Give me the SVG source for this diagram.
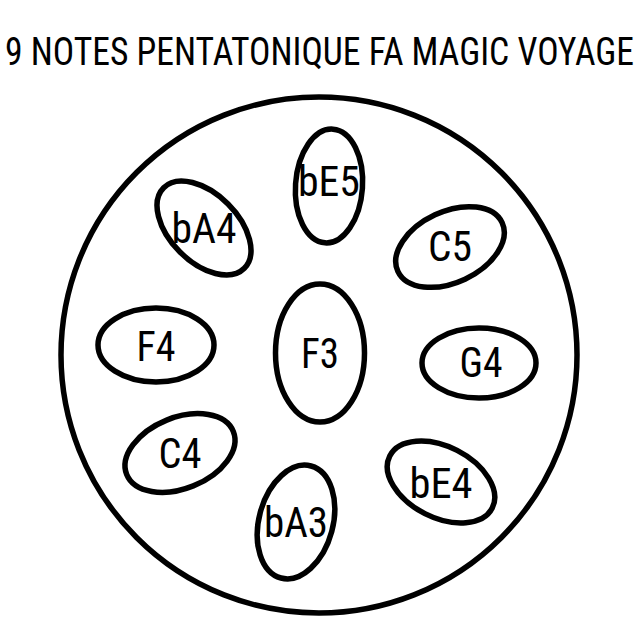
<svg xmlns="http://www.w3.org/2000/svg" width="640" height="640" viewBox="0 0 640 640">
<style>
.shape{fill:none;stroke:#000;stroke-width:5.5}
.lbl{font-family:"Roboto Condensed",Roboto,"Liberation Sans",sans-serif;font-size:43px;fill:#000;text-anchor:middle}
.title{font-family:"Roboto Condensed",Roboto,"Liberation Sans",sans-serif;font-size:33px;fill:#000}
</style>
<rect width="640" height="640" fill="#fff"/>
<text class="title" x="5" y="56.5" transform="scale(1,1.15)" textLength="629" lengthAdjust="spacingAndGlyphs">9 NOTES PENTATONIQUE FA MAGIC VOYAGE</text>
<g id="drum"><circle class="shape" cx="319" cy="355" r="258"/></g>
<g id="connectors"></g>
<g id="bE5"><ellipse class="shape" cx="329" cy="186" rx="33.5" ry="57" transform="rotate(4 329 186)"/><text class="lbl" x="329" y="196" textLength="62" lengthAdjust="spacingAndGlyphs">bE5</text></g>
<g id="bA4"><ellipse class="shape" cx="204" cy="228" rx="57" ry="34" transform="rotate(45 204 228)"/><text class="lbl" x="204" y="243" textLength="65" lengthAdjust="spacingAndGlyphs">bA4</text></g>
<g id="C5"><ellipse class="shape" cx="450" cy="247" rx="57.5" ry="35.5" transform="rotate(-25 450 247)"/><text class="lbl" x="450" y="261" textLength="44" lengthAdjust="spacingAndGlyphs">C5</text></g>
<g id="F4"><ellipse class="shape" cx="156" cy="345" rx="58" ry="37"/><text class="lbl" x="156" y="361" textLength="39" lengthAdjust="spacingAndGlyphs">F4</text></g>
<g id="F3"><ellipse class="shape" cx="320" cy="353" rx="44.5" ry="69"/><text class="lbl" x="320" y="368" textLength="38" lengthAdjust="spacingAndGlyphs">F3</text></g>
<g id="G4"><ellipse class="shape" cx="479" cy="363" rx="57" ry="35"/><text class="lbl" x="481" y="377" textLength="43" lengthAdjust="spacingAndGlyphs">G4</text></g>
<g id="C4"><ellipse class="shape" cx="180" cy="453" rx="57.5" ry="35.5" transform="rotate(-22 180 453)"/><text class="lbl" x="180" y="468" textLength="43" lengthAdjust="spacingAndGlyphs">C4</text></g>
<g id="bA3"><ellipse class="shape" cx="296" cy="522" rx="37" ry="58" transform="rotate(15 296 522)"/><text class="lbl" x="296" y="537" textLength="64" lengthAdjust="spacingAndGlyphs">bA3</text></g>
<g id="bE4"><ellipse class="shape" cx="441" cy="482" rx="57.5" ry="35.5" transform="rotate(27 441 482)"/><text class="lbl" x="441" y="498" textLength="63" lengthAdjust="spacingAndGlyphs">bE4</text></g>
</svg>
